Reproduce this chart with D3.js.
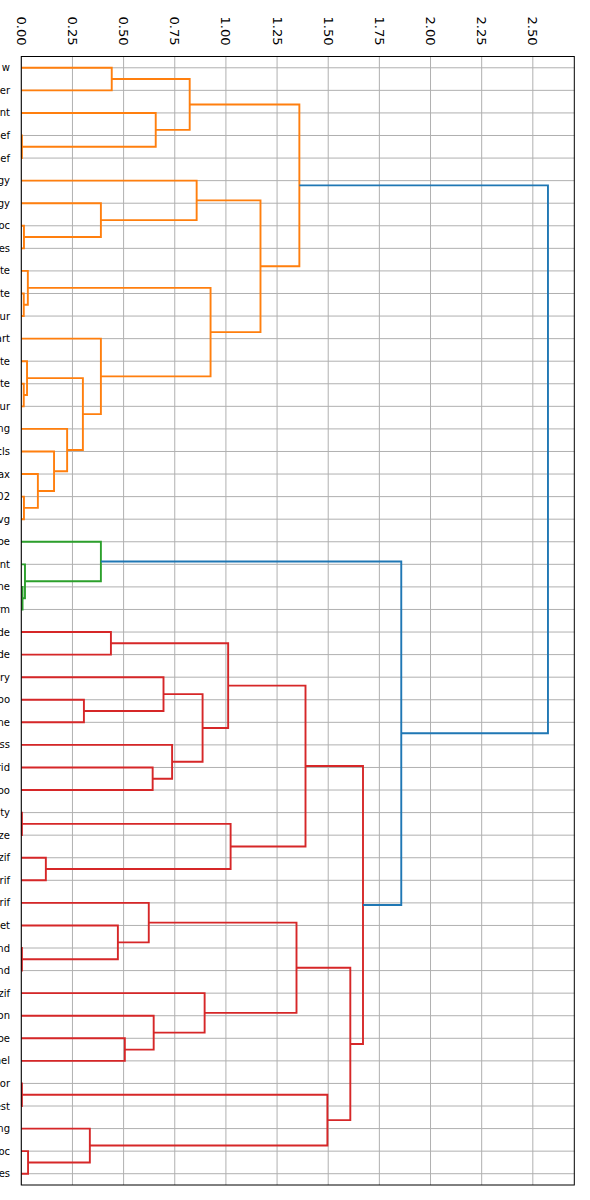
<!DOCTYPE html>
<html>
<head>
<meta charset="utf-8">
<script src="https://cdn.jsdelivr.net/npm/d3@7"></script>
<style>
  html, body { margin: 0; padding: 0; background: #fff; }
  svg { display: block; font-family: "DejaVu Sans", sans-serif; }
</style>
</head>
<body>
<svg id="chart" width="590" height="1200"></svg>
<script>
// ---- data ----
const leafLabels = [
  "Hotkey w", "Viewer", "Client", "Chief", "Brief", "Biology", "Geology", "Protoc", "Notes", "Template",
  "Palette", "Contour", "Chart", "Update", "Write", "Blur", "Rendering", "Tcls", "Syntax", "Model02",
  "Svg", "Oboe", "Accent", "Machine", "Form", "Mode", "Code", "Gallery", "Taboo", "Engine",
  "Glass", "Grid", "Bamboo", "Gravity", "Resize", "Gzif", "Tarif", "Sherif", "Widget", "Expand",
  "Extend", "Bzif", "Button", "Oboe", "Panel", "Color", "Test", "Spacing", "Protoc", "Notes"
];
// linkage: node 50+k merges mergeA[k] (upper) and mergeB[k] (lower) at mergeHeight[k]
const mergeA = [3, 0, 2, 51, 7, 6, 5, 10, 9, 14, 13, 19, 18, 17, 16, 60, 12, 58, 56, 53,
                23, 22, 21, 25, 28, 27, 31, 30, 75, 73, 33, 35, 80, 79, 39, 38, 37, 43, 42, 41,
                86, 45, 48, 47, 91, 90, 83, 72, 69];
const mergeB = [4, 1, 50, 52, 8, 54, 55, 11, 57, 15, 59, 20, 61, 62, 63, 64, 65, 66, 67, 68,
                24, 70, 71, 26, 29, 74, 32, 76, 77, 78, 34, 36, 81, 82, 40, 84, 85, 44, 87, 88,
                89, 46, 49, 92, 93, 94, 95, 96, 97];
const mergeHeight = [0.003, 0.442, 0.657, 0.823, 0.013, 0.389, 0.857, 0.012, 0.032, 0.012,
                     0.028, 0.013, 0.081, 0.160, 0.224, 0.301, 0.389, 0.925, 1.169, 1.359,
                     0.006, 0.018, 0.389, 0.438, 0.306, 0.695, 0.642, 0.737, 0.886, 1.011,
                     0.003, 0.120, 1.023, 1.389, 0.003, 0.472, 0.623, 0.506, 0.647, 0.896,
                     1.345, 0.003, 0.033, 0.335, 1.496, 1.608, 1.670, 1.857, 2.574];
const xTickValues = [0, 0.25, 0.5, 0.75, 1.0, 1.25, 1.5, 1.75, 2.0, 2.25, 2.5];
const clusterColors = ["#ff7f0e", "#2ca02c", "#d62728", "#9467bd", "#8c564b"];
const aboveColor = "#1f77b4";

// ---- layout ----
const svg = d3.select("#chart");
const nLeaves = leafLabels.length;
const pLeft = 21.3, pRight = 574.3, pTop = 56.5, pBottom = 1185;
const maxH = d3.max(mergeHeight);
const threshold = 0.7 * maxH;

const x = d3.scaleLinear().domain([0, maxH * 1.05]).range([pLeft, pRight]);
const y = d3.scaleLinear().domain([0, nLeaves * 10]).range([pTop, pBottom]);

// node positions (in data units)
const nodeY = [], nodeH = [];
for (let i = 0; i < nLeaves; i++) { nodeY[i] = 10 * i + 5; nodeH[i] = 0; }
mergeA.forEach((a, k) => {
  const b = mergeB[k], id = nLeaves + k;
  nodeY[id] = (nodeY[a] + nodeY[b]) / 2;
  nodeH[id] = mergeHeight[k];
});

// colors (scipy-style color threshold)
const linkColor = [];
let colorIdx = 0;
function assign(id, color) {
  if (id < nLeaves) return;
  const k = id - nLeaves;
  if (nodeH[id] >= threshold) {
    linkColor[k] = aboveColor;
    [mergeA[k], mergeB[k]].forEach(c => {
      if (c >= nLeaves && nodeH[c] < threshold) {
        assign(c, clusterColors[colorIdx++ % clusterColors.length]);
      } else assign(c, null);
    });
  } else {
    linkColor[k] = color;
    assign(mergeA[k], color);
    assign(mergeB[k], color);
  }
}
assign(nLeaves + mergeA.length - 1, null);

// ---- grid ----
const g = svg.append("g");
g.selectAll(".vgrid").data(xTickValues).join("line")
  .attr("x1", d => x(d)).attr("x2", d => x(d))
  .attr("y1", pTop).attr("y2", pBottom)
  .attr("stroke", "#b0b0b0").attr("stroke-width", 1);
g.selectAll(".hgrid").data(d3.range(nLeaves)).join("line")
  .attr("x1", pLeft).attr("x2", pRight)
  .attr("y1", i => y(nodeY[i])).attr("y2", i => y(nodeY[i]))
  .attr("stroke", "#b0b0b0").attr("stroke-width", 1);

// ---- links ----
g.selectAll(".link").data(mergeA.map((a, k) => k)).join("path")
  .attr("fill", "none")
  .attr("stroke", k => linkColor[k])
  .attr("stroke-width", 1.9)
  .attr("d", k => {
    const a = mergeA[k], b = mergeB[k], h = mergeHeight[k];
    return `M${x(nodeH[a])},${y(nodeY[a])}H${x(h)}V${y(nodeY[b])}H${x(nodeH[b])}`;
  });

// ---- frame ----
g.append("rect")
  .attr("x", pLeft).attr("y", pTop)
  .attr("width", pRight - pLeft).attr("height", pBottom - pTop)
  .attr("fill", "none").attr("stroke", "#000").attr("stroke-width", 1);

// ---- x tick labels (top, rotated) ----
g.selectAll(".xt").data(xTickValues).join("text")
  .attr("transform", d => `translate(${x(d)},${pTop - 11}) rotate(90)`)
  .attr("text-anchor", "end")
  .attr("dominant-baseline", "central")
  .attr("font-size", 13)
  .attr("fill", "#000")
  .text(d => d3.format(".2f")(d));

// ---- leaf labels ----
g.selectAll(".yl").data(d3.range(nLeaves)).join("text")
  .attr("x", 10)
  .attr("y", i => y(nodeY[i]))
  .attr("text-anchor", "end")
  .attr("dominant-baseline", "central")
  .attr("font-size", 10)
  .attr("fill", "#000")
  .text(i => leafLabels[i]);
</script>
</body>
</html>
